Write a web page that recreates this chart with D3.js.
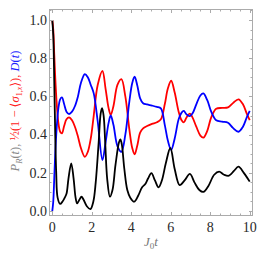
<!DOCTYPE html>
<html><head><meta charset="utf-8">
<script src="https://cdn.jsdelivr.net/npm/d3@7"></script>
<style>html,body{margin:0;padding:0;background:#fff;}svg{display:block;}</style>
</head><body>
<script>
// Time samples and values for each series
const tBlack = [0,0.05,0.1,0.15,0.2,0.27,0.4,0.52,0.62,0.72,0.82,0.96,1.08,1.18,1.26,1.38,1.48,1.58,1.75,1.93,2.08,2.2,2.35,2.45,2.52,2.6,2.68,2.78,2.92,3.05,3.2,3.38,3.45,3.52,3.65,3.8,3.95,4.15,4.35,4.55,4.7,4.85,5.02,5.2,5.38,5.55,5.75,5.98,6.2,6.45,6.7,6.97,7.2,7.45,7.65,7.9,8.2,8.45,8.7,8.95,9.2,9.43,9.7,10];
const pR = [1.0,0.92,0.68,0.4,0.2,0.07,0.037,0.05,0.068,0.09,0.17,0.25,0.17,0.07,0.04,0.06,0.075,0.06,0.025,0.01,0.05,0.15,0.36,0.51,0.538,0.5,0.36,0.17,0.075,0.11,0.24,0.36,0.375,0.35,0.22,0.11,0.07,0.049,0.08,0.125,0.14,0.17,0.198,0.16,0.124,0.16,0.25,0.33,0.22,0.136,0.16,0.194,0.15,0.11,0.1,0.13,0.19,0.206,0.19,0.185,0.21,0.232,0.2,0.154];

const tRB = [0,0.05,0.1,0.15,0.22,0.3,0.4,0.49,0.6,0.72,0.85,1.0,1.15,1.3,1.45,1.65,1.8,1.95,2.1,2.3,2.54,2.7,2.85,2.96,3.1,3.3,3.5,3.7,3.9,4.05,4.17,4.3,4.45,4.6,4.8,5.05,5.3,5.5,5.7,5.85,6.02,6.2,6.4,6.55,6.66,6.8,6.97,7.1,7.3,7.5,7.65,7.85,8.05,8.3,8.6,8.9,9.15,9.43,9.65,9.85,10];
const sigma = [1.0,0.95,0.82,0.7,0.57,0.47,0.415,0.407,0.445,0.48,0.49,0.475,0.44,0.39,0.33,0.284,0.31,0.38,0.5,0.66,0.733,0.64,0.54,0.503,0.55,0.66,0.69,0.6,0.43,0.33,0.297,0.34,0.41,0.433,0.445,0.456,0.465,0.48,0.56,0.64,0.682,0.62,0.52,0.475,0.464,0.49,0.51,0.49,0.44,0.395,0.384,0.42,0.49,0.535,0.54,0.543,0.565,0.585,0.56,0.51,0.476];
const dVals = [0,0.05,0.17,0.3,0.43,0.53,0.585,0.595,0.56,0.52,0.508,0.52,0.55,0.6,0.67,0.717,0.7,0.66,0.616,0.47,0.267,0.36,0.46,0.5,0.45,0.34,0.31,0.4,0.57,0.67,0.703,0.66,0.59,0.564,0.558,0.552,0.545,0.537,0.45,0.37,0.32,0.38,0.48,0.515,0.524,0.505,0.497,0.51,0.56,0.605,0.616,0.58,0.52,0.475,0.468,0.462,0.435,0.415,0.44,0.49,0.524];

const xMajor = [0,2,4,6,8,10];
const xMajorLabels = ["0","2","4","6","8","10"];
const yMajor = [0,0.2,0.4,0.6,0.8,1.0];
const yMajorLabels = ["0.0","0.2","0.4","0.6","0.8","1.0"];

const W = 266, H = 258;
const L = 49, R = 253, T = 9, B = 216;
const x = d3.scaleLinear().domain([-0.166, 10.166]).range([L, R]);
const y = d3.scaleLinear().domain([-0.026, 1.0576]).range([B, T]);

const svg = d3.select("body").append("svg").attr("width", W).attr("height", H);

const frameCol = "#ababab";
const serif = "'Liberation Serif','Times New Roman','DejaVu Serif',serif";

svg.append("clipPath").attr("id","clip").append("rect").attr("x",L).attr("y",T).attr("width",R-L).attr("height",B-T);

const line = (ts, vs) => d3.line().x((d,i)=>x(ts[i])).y(d=>y(d)).curve(d3.curveCatmullRom.alpha(0.5))(vs);
const g = svg.append("g").attr("clip-path","url(#clip)");
g.append("path").attr("d", line(tRB, sigma)).attr("fill","none").attr("stroke","#ff0000").attr("stroke-width",1.8);
g.append("path").attr("d", line(tRB, dVals)).attr("fill","none").attr("stroke","#0000ff").attr("stroke-width",1.8);
g.append("path").attr("d", line(tBlack, pR)).attr("fill","none").attr("stroke","#000").attr("stroke-width",1.8);

svg.append("rect").attr("x",L+0.5).attr("y",T+0.5).attr("width",R-L-1).attr("height",B-T-1)
  .attr("fill","none").attr("stroke",frameCol).attr("stroke-width",1);

const xMinor = d3.range(0, 10.01, 0.5).filter(v => !xMajor.includes(v));
const yMinor = d3.range(0, 1.051, 0.05).map(v=>+v.toFixed(2)).filter(v => !yMajor.some(m=>Math.abs(m-v)<1e-6));
const tk = svg.append("g").attr("stroke",frameCol).attr("stroke-width",1);
xMajor.forEach(v=>{const px=Math.round(x(v))+0.5;
  tk.append("line").attr("x1",px).attr("x2",px).attr("y1",B).attr("y2",B-4);
  tk.append("line").attr("x1",px).attr("x2",px).attr("y1",T).attr("y2",T+4);});
xMinor.forEach(v=>{const px=Math.round(x(v))+0.5;
  tk.append("line").attr("x1",px).attr("x2",px).attr("y1",B).attr("y2",B-2.5);
  tk.append("line").attr("x1",px).attr("x2",px).attr("y1",T).attr("y2",T+2.5);});
yMajor.forEach(v=>{const py=Math.round(y(v))+0.5;
  tk.append("line").attr("x1",L).attr("x2",L+4).attr("y1",py).attr("y2",py);
  tk.append("line").attr("x1",R).attr("x2",R-4).attr("y1",py).attr("y2",py);});
yMinor.forEach(v=>{const py=Math.round(y(v))+0.5;
  tk.append("line").attr("x1",L).attr("x2",L+2.5).attr("y1",py).attr("y2",py);
  tk.append("line").attr("x1",R).attr("x2",R-2.5).attr("y1",py).attr("y2",py);});

const lab = "#2a2a2a";
xMajor.forEach((v,i)=>svg.append("text").attr("x",x(v)).attr("y",231.5).attr("text-anchor","middle")
  .attr("font-family",serif).attr("font-size",14).attr("fill",lab).text(xMajorLabels[i]));
yMajor.forEach((v,i)=>svg.append("text").attr("x",47).attr("y",y(v)+4.8).attr("text-anchor","end")
  .attr("font-family",serif).attr("font-size",14).attr("fill",lab).text(yMajorLabels[i]));

const xt = svg.append("text").attr("x",151).attr("y",246).attr("text-anchor","middle")
  .attr("font-family",serif).attr("font-size",13).attr("font-style","italic").attr("fill","#777");
xt.append("tspan").text("J");
xt.append("tspan").attr("font-size",9).attr("dy",2.5).attr("font-style","normal").text("0");
xt.append("tspan").attr("dy",-2.5).text("t");

const yt = svg.append("text").attr("transform","translate(19,111) rotate(-90)").attr("text-anchor","middle")
  .attr("font-family",serif).attr("font-size",12.5);
yt.append("tspan").attr("fill","#888").attr("font-style","italic").text("P");
yt.append("tspan").attr("fill","#888").attr("font-style","italic").attr("font-size",8.5).attr("dy",2.5).text("R");
yt.append("tspan").attr("fill","#888").attr("dy",-2.5).text("(");
yt.append("tspan").attr("fill","#888").attr("font-style","italic").text("t");
yt.append("tspan").attr("fill","#888").text("), ");
yt.append("tspan").attr("fill","#ff2020").text("½(1 − ⟨");
yt.append("tspan").attr("fill","#ff2020").attr("font-style","italic").text("σ");
yt.append("tspan").attr("fill","#ff2020").attr("font-size",8).attr("dy",2.5).text("1,");
yt.append("tspan").attr("fill","#ff2020").attr("font-size",8).attr("font-style","italic").text("x");
yt.append("tspan").attr("fill","#ff2020").attr("dy",-2.5).text("⟩), ");
yt.append("tspan").attr("fill","#2020ff").attr("font-style","italic").text("D");
yt.append("tspan").attr("fill","#2020ff").text("(");
yt.append("tspan").attr("fill","#2020ff").attr("font-style","italic").text("t");
yt.append("tspan").attr("fill","#2020ff").text(")");
</script>
</body></html>
